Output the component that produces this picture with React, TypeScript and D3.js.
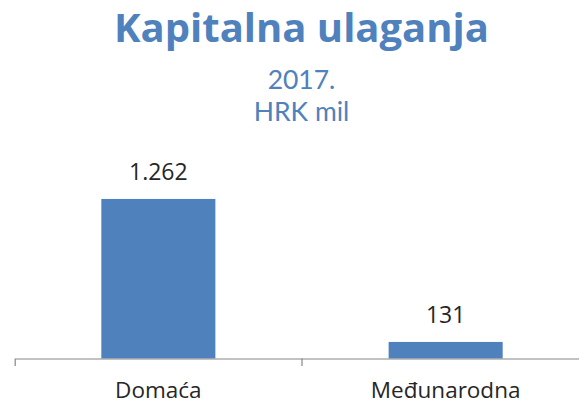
import React, { useEffect, useRef } from "react";
import * as d3 from "d3";

const categories = ["Domaća", "Međunarodna"];
const values = [1262, 131];
const valueLabels = ["1.262", "131"];
const title = "Kapitalna ulaganja";
const subtitles = ["2017.", "HRK mil"];

const width = 579;
const height = 404;

function App() {
    const d3Container = useRef<SVGSVGElement | null>(null);

    useEffect(() => {
        document.body.style.margin = "0";
        if (!d3Container.current) return;

        const marginLeft = 14.7;
        const axisY = 358.5;
        const plotTop = 181.5;
        const blue = "#4F81BD";
        const font = "'Open Sans', sans-serif";

        d3.select(d3Container.current).selectAll("*").remove();
        const svg = d3.select(d3Container.current);

        // category bands (the axis runs past the right edge, like the original)
        const x = d3
            .scaleBand()
            .domain(categories)
            .range([marginLeft, marginLeft + 287.3 * categories.length])
            .padding(0);

        const y = d3.scaleLinear().domain([0, 1400]).range([axisY, plotTop]);

        const barWidth = x.bandwidth() * 0.397;

        // titles
        svg.append("text")
            .attr("x", 301.5)
            .attr("y", 42)
            .attr("text-anchor", "middle")
            .attr("font-family", font)
            .attr("font-weight", "bold")
            .attr("font-size", 40)
            .attr("fill", blue)
            .text(title);

        svg.append("g")
            .selectAll("text")
            .data(subtitles)
            .join("text")
            .attr("x", 301.5)
            .attr("y", (d, i) => 89 + i * 32)
            .attr("text-anchor", "middle")
            .attr("font-family", "Lato, sans-serif")
            .attr("font-size", 26.5)
            .attr("fill", blue)
            .text((d) => d);

        // bars
        svg.append("g")
            .attr("fill", blue)
            .selectAll("rect")
            .data(values)
            .join("rect")
            .attr("x", (d, i) => x(categories[i])! + (x.bandwidth() - barWidth) / 2)
            .attr("y", (d) => y(d))
            .attr("width", barWidth)
            .attr("height", (d) => y(0) - y(d));

        // value labels
        svg.append("g")
            .selectAll("text")
            .data(values)
            .join("text")
            .attr("x", (d, i) => x(categories[i])! + x.bandwidth() / 2)
            .attr("y", (d) => y(d) - 19)
            .attr("text-anchor", "middle")
            .attr("font-family", font)
            .attr("font-size", 23)
            .attr("fill", "#262626")
            .text((d, i) => valueLabels[i]);

        // x axis
        const xAxis = d3
            .axisBottom(x)
            .tickSizeInner(0)
            .tickSizeOuter(7.5)
            .tickFormat(() => "");

        const axisG = svg
            .append("g")
            .attr("transform", `translate(0,${axisY})`)
            .call(xAxis);
        axisG.select(".domain").attr("stroke", "#868686").attr("stroke-width", 1.2);

        // tick marks between categories
        axisG
            .selectAll("line.sep")
            .data(categories.slice(1))
            .join("line")
            .attr("class", "sep")
            .attr("x1", (d) => x(d)!)
            .attr("x2", (d) => x(d)!)
            .attr("y1", 0)
            .attr("y2", 7.5)
            .attr("stroke", "#868686")
            .attr("stroke-width", 1.2);

        // category labels
        svg.append("g")
            .selectAll("text")
            .data(categories)
            .join("text")
            .attr("x", (d) => x(d)! + x.bandwidth() / 2)
            .attr("y", 398)
            .attr("text-anchor", "middle")
            .attr("font-family", font)
            .attr("font-size", 22.5)
            .attr("fill", "#262626")
            .text((d) => d);
    }, []);

    return (
        <svg
            ref={d3Container}
            width={width}
            height={height}
            viewBox={`0 0 ${width} ${height}`}
            style={{ display: "block", background: "#fff" }}
        />
    );
}

export default App;
